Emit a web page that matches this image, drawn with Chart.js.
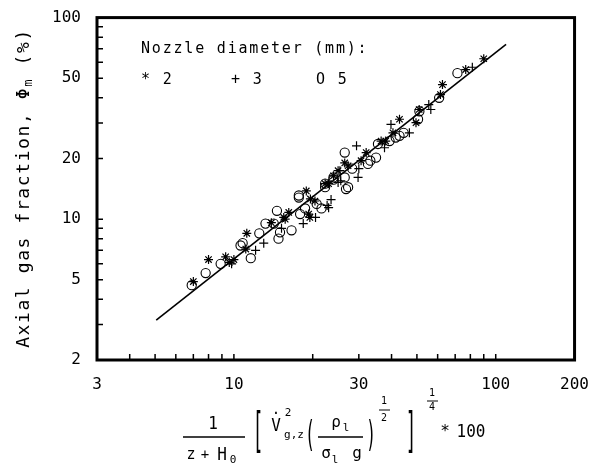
<!DOCTYPE html>
<html>
<head>
<meta charset="utf-8">
<script src="https://cdn.jsdelivr.net/npm/chart.js@4/dist/chart.umd.min.js"></script>
<style>
html,body{margin:0;padding:0;background:#fff;}
#wrap{width:596px;height:465px;position:relative;}
</style>
</head>
<body>
<div id="wrap"><canvas id="c" width="596" height="465"></canvas></div>
<script>
// ---- data ----
const xTickLabels = [3, 10, 30, 100, 200];
const yTickLabels = [2, 5, 10, 20, 50, 100];
const xMinorTicks = [4,5,6,7,8,9,10,20,30,40,50,60,70,80,90,100];
const yMinorTicks = [3,4,5,6,7,8,9,10,20,30,40,50,60,70,80,90];

const nozzle2X = [7.0, 8.0, 9.3, 9.6, 10.0, 11.1, 11.2, 13.9, 15.5, 15.7, 16.2, 18.9, 19.3, 19.5, 19.6, 20.4, 22.3, 23.0, 24.0, 25.0, 26.5, 27.3, 30.6, 32.0, 36.5, 38.0, 40.5, 42.9, 49.6, 51.0, 61.5, 62.6, 76.8, 90.0];
const nozzle2Y = [4.9, 6.3, 6.5, 6.1, 6.3, 7.1, 8.5, 9.6, 10.2, 10.0, 10.8, 13.8, 10.6, 10.2, 12.6, 12.3, 15.0, 15.0, 16.4, 17.4, 19.0, 18.4, 19.5, 21.4, 24.4, 24.4, 26.8, 31.3, 30.1, 35.0, 41.5, 46.5, 55.2, 62.5];

const nozzle3X = [9.8, 12.1, 13.0, 15.2, 18.4, 20.5, 22.7, 23.0, 23.5, 25.0, 25.4, 25.6, 29.4, 29.8, 30.0, 37.6, 39.8, 46.8, 55.5, 56.5, 81.4];
const nozzle3Y = [6.0, 7.0, 7.6, 9.0, 9.5, 10.2, 11.7, 11.4, 12.5, 15.2, 17.4, 15.5, 23.1, 16.1, 17.8, 22.6, 29.5, 26.8, 37.0, 35.0, 56.7];

const nozzle5X = [6.9, 7.8, 8.9, 10.6, 10.8, 11.6, 12.5, 13.2, 14.2, 14.6, 14.8, 15.0, 16.6, 17.7, 17.7, 17.9, 18.7, 20.7, 21.6, 22.3, 22.3, 24.0, 24.0, 26.5, 26.8, 27.3, 26.5, 28.3, 32.5, 33.2, 34.9, 35.5, 39.3, 41.5, 42.9, 44.5, 50.5, 51.1, 60.8, 71.4];
const nozzle5Y = [4.7, 5.4, 6.0, 7.4, 7.6, 6.4, 8.5, 9.5, 9.5, 11.0, 8.0, 8.6, 8.8, 13.1, 12.8, 10.6, 11.3, 11.9, 11.3, 14.4, 15.0, 16.1, 15.7, 21.4, 14.1, 14.4, 16.1, 17.8, 18.8, 19.5, 20.2, 23.6, 24.4, 25.4, 25.9, 26.8, 31.3, 34.3, 40.0, 53.0];

const fitX = [5.05, 109.5];
const fitY = [3.15, 73.6];

const legendTitle = "Nozzle diameter (mm):";
const legendItems = ["* 2", "+ 3", "O 5"];
const yTitle = "Axial gas fraction, Φ";

// ---- helpers ----
const pts = (xs, ys) => xs.map((x, i) => ({x: x, y: ys[i]}));
const MONO = '"DejaVu Sans Mono"';

function txt(ctx, s, x, y, size, sy, sx) {
  ctx.save();
  ctx.translate(x, y);
  ctx.scale(sx || 1, sy || 1);
  ctx.font = size + 'px ' + MONO;
  ctx.textAlign = 'center';
  ctx.textBaseline = 'middle';
  ctx.fillStyle = '#000';
  ctx.fillText(s, 0, 0);
  ctx.restore();
}
function hline(ctx, x1, x2, y, w) {
  ctx.save();
  ctx.strokeStyle = '#000';
  ctx.lineWidth = w || 1.3;
  ctx.beginPath(); ctx.moveTo(x1, y); ctx.lineTo(x2, y); ctx.stroke();
  ctx.restore();
}

const decor = {
  id: 'decor',
  afterDraw(chart) {
    const ctx = chart.ctx;
    const a = chart.chartArea;
    const xs = chart.scales.x, ys = chart.scales.y;
    ctx.save();
    ctx.strokeStyle = '#000';
    // inward ticks
    ctx.lineWidth = 1.5;
    ctx.beginPath();
    xMinorTicks.forEach(v => {
      const px = xs.getPixelForValue(v);
      ctx.moveTo(px, a.bottom); ctx.lineTo(px, a.bottom - 6);
    });
    yMinorTicks.forEach(v => {
      const py = ys.getPixelForValue(v);
      ctx.moveTo(a.left, py); ctx.lineTo(a.left + 6, py);
    });
    ctx.stroke();
    // frame
    ctx.lineWidth = 3;
    ctx.strokeRect(a.left, a.top, a.right - a.left, a.bottom - a.top);

    // legend
    ctx.fillStyle = '#000';
    ctx.font = '15px ' + MONO;
    ctx.textBaseline = 'middle';
    ctx.textAlign = 'left';
    if ('letterSpacing' in ctx) ctx.letterSpacing = '1.8px';
    ctx.fillText(legendTitle, 141, 49);
    ctx.fillText(legendItems[0], 141, 80);
    ctx.fillText(legendItems[1], 231, 80);
    ctx.fillText(legendItems[2], 316, 80);
    if ('letterSpacing' in ctx) ctx.letterSpacing = '0px';

    // y axis title (rotated)
    ctx.save();
    ctx.translate(24, 188);
    ctx.rotate(-Math.PI / 2);
    ctx.font = '18px ' + MONO;
    if ('letterSpacing' in ctx) ctx.letterSpacing = '1.6px';
    ctx.textAlign = 'left';
    ctx.textBaseline = 'middle';
    const w1 = ctx.measureText(yTitle).width;
    ctx.font = '12px ' + MONO;
    const w2 = ctx.measureText('m').width;
    ctx.font = '18px ' + MONO;
    const w3 = ctx.measureText(' (%)').width;
    const total = w1 + w2 + w3;
    let sx = -total / 2;
    ctx.fillText(yTitle, sx, 0);
    ctx.font = '12px ' + MONO;
    ctx.fillText('m', sx + w1, 5);
    ctx.font = '18px ' + MONO;
    ctx.fillText(' (%)', sx + w1 + w2, 0);
    if ('letterSpacing' in ctx) ctx.letterSpacing = '0px';
    ctx.restore();

    // x axis title (formula)
    txt(ctx, '1', 213, 424, 16, 1.15);
    hline(ctx, 183, 245, 437);
    txt(ctx, 'z', 191, 455, 15);
    txt(ctx, '+', 205, 455, 14);
    txt(ctx, 'H', 222, 455, 16, 1.1);
    txt(ctx, '0', 233, 460, 11);
    txt(ctx, '[', 258, 434, 22, 2.2, 0.8);
    txt(ctx, 'V', 276, 426, 16, 1.1);
    txt(ctx, '·', 276, 414, 14);
    txt(ctx, '2', 288, 413, 11);
    txt(ctx, 'g,z', 294, 435, 11);
    txt(ctx, '(', 310, 437, 20, 1.8, 0.8);
    txt(ctx, 'ρ', 336, 423, 16);
    txt(ctx, 'l', 346, 428, 11);
    hline(ctx, 318, 363, 437);
    txt(ctx, 'σ', 326, 454, 16);
    txt(ctx, 'l', 335, 460, 11);
    txt(ctx, 'g', 357, 454, 16);
    txt(ctx, ')', 371, 437, 20, 1.8, 0.8);
    txt(ctx, '1', 384, 401, 10);
    hline(ctx, 379, 390, 410, 1);
    txt(ctx, '2', 384, 418, 10);
    txt(ctx, ']', 411, 434, 22, 2.2, 0.8);
    txt(ctx, '1', 432, 393, 10);
    hline(ctx, 427, 438, 401, 1);
    txt(ctx, '4', 432, 407, 10);
    txt(ctx, '*', 445, 432, 16);
    txt(ctx, '100', 471, 432, 16, 1.15);
    ctx.restore();
  }
};

const tickFont = {family: 'DejaVu Sans Mono', size: 16};

new Chart(document.getElementById('c'), {
  data: {
    datasets: [
      {type: 'line', data: pts(fitX, fitY), borderColor: '#000', borderWidth: 1.6, pointRadius: 0, fill: false, tension: 0},
      {type: 'scatter', data: pts(nozzle2X, nozzle2Y), pointStyle: 'star', pointRadius: 4.5, borderColor: '#000', backgroundColor: '#000', borderWidth: 1.2},
      {type: 'scatter', data: pts(nozzle3X, nozzle3Y), pointStyle: 'cross', pointRadius: 4.5, borderColor: '#000', backgroundColor: '#000', borderWidth: 1.2},
      {type: 'scatter', data: pts(nozzle5X, nozzle5Y), pointStyle: 'circle', pointRadius: 4.6, borderColor: '#000', backgroundColor: 'rgba(0,0,0,0)', borderWidth: 1.1}
    ]
  },
  options: {
    responsive: false,
    animation: false,
    events: [],
    layout: {padding: {left: 0, top: 16, right: 18, bottom: 0}},
    plugins: {legend: {display: false}, tooltip: {enabled: false}},
    scales: {
      x: {
        type: 'logarithmic', min: 3, max: 200,
        grid: {display: false}, border: {display: false},
        afterBuildTicks: s => { s.ticks = xTickLabels.map(v => ({value: v})); },
        afterFit: s => { s.height = 105; },
        ticks: {color: '#000', font: tickFont, padding: 7, maxRotation: 0, autoSkip: false, callback: v => String(v)}
      },
      y: {
        type: 'logarithmic', min: 2, max: 100,
        grid: {display: false}, border: {display: false},
        afterBuildTicks: s => { s.ticks = yTickLabels.map(v => ({value: v})); },
        afterFit: s => { s.width = 97; },
        ticks: {color: '#000', font: tickFont, padding: 8, autoSkip: false, callback: v => String(v)}
      }
    }
  },
  plugins: [decor]
});
</script>
</body>
</html>
